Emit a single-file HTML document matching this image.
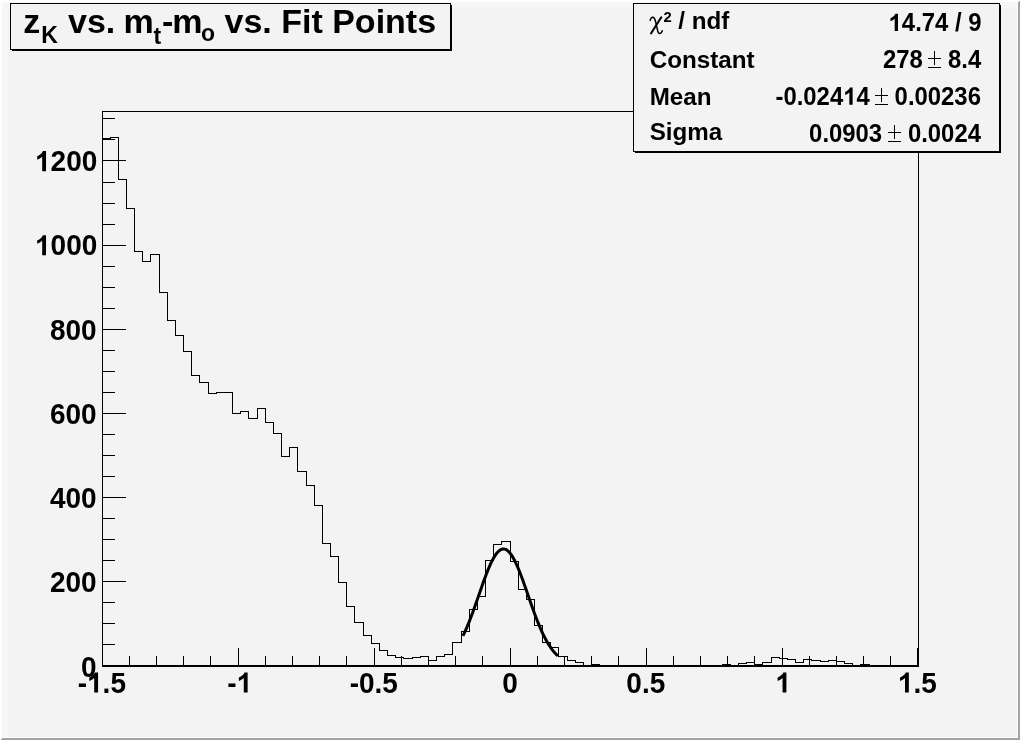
<!DOCTYPE html>
<html><head><meta charset="utf-8"><title>zK vs. mt-mo vs. Fit Points</title>
<style>
html,body{margin:0;padding:0;background:#f3f3f3;}
body{width:1020px;height:740px;overflow:hidden;position:relative;font-family:"Liberation Sans",sans-serif;}
svg{position:absolute;left:0;top:0;display:block;filter:grayscale(1)}
text{font-kerning:none;font-family:"Liberation Sans",sans-serif;font-weight:bold;fill:#000}
.ax text{font-size:28px}
.st text{font-size:24.2px}
.st .nm text{font-size:23.9px}
.sym{font-family:"Liberation Serif",serif;font-weight:normal}
</style></head><body>
<svg width="1020" height="740" viewBox="0 0 1020 740">
<rect x="0" y="0" width="1020" height="740" fill="#f3f3f3"/>
<!-- canvas bevel -->
<g shape-rendering="crispEdges">
<rect x="0" y="0" width="1020" height="2" fill="#ffffff"/>
<rect x="0" y="0" width="2" height="740" fill="#ffffff"/>
<rect x="1018" y="0" width="2" height="740" fill="#a3a3a3"/>
<rect x="0" y="738" width="1020" height="2" fill="#a3a3a3"/>
<path d="M0 740 L2 738 L0 738 Z M1020 0 L1018 2 L1018 0 Z" fill="#ffffff"/>
<rect x="2" y="2" width="1016" height="6" fill="#f7f7f7"/>
<rect x="2" y="2" width="6" height="736" fill="#f7f7f7"/>
<rect x="2" y="737" width="1016" height="1" fill="#fbfbfb"/>
<rect x="1017" y="2" width="1" height="736" fill="#fbfbfb"/>
</g>
<!-- frame -->
<g shape-rendering="crispEdges" fill="#000">
<rect x="102" y="111" width="817" height="1"/>
<rect x="102" y="111" width="1" height="556"/>
<rect x="918" y="111" width="1" height="556"/>
<rect x="102" y="665" width="817" height="2"/>
<rect x="102" y="648" width="1" height="17"/><rect x="129" y="656" width="1" height="9"/><rect x="156" y="656" width="1" height="9"/><rect x="183" y="656" width="1" height="9"/><rect x="210" y="656" width="1" height="9"/><rect x="238" y="648" width="1" height="17"/><rect x="265" y="656" width="1" height="9"/><rect x="292" y="656" width="1" height="9"/><rect x="319" y="656" width="1" height="9"/><rect x="346" y="656" width="1" height="9"/><rect x="374" y="648" width="1" height="17"/><rect x="401" y="656" width="1" height="9"/><rect x="428" y="656" width="1" height="9"/><rect x="455" y="656" width="1" height="9"/><rect x="482" y="656" width="1" height="9"/><rect x="510" y="648" width="1" height="17"/><rect x="537" y="656" width="1" height="9"/><rect x="564" y="656" width="1" height="9"/><rect x="591" y="656" width="1" height="9"/><rect x="618" y="656" width="1" height="9"/><rect x="646" y="648" width="1" height="17"/><rect x="673" y="656" width="1" height="9"/><rect x="700" y="656" width="1" height="9"/><rect x="727" y="656" width="1" height="9"/><rect x="754" y="656" width="1" height="9"/><rect x="782" y="648" width="1" height="17"/><rect x="809" y="656" width="1" height="9"/><rect x="836" y="656" width="1" height="9"/><rect x="863" y="656" width="1" height="9"/><rect x="890" y="656" width="1" height="9"/><rect x="917" y="648" width="1" height="17"/>
<rect x="103" y="665" width="23" height="1"/><rect x="103" y="644" width="12" height="1"/><rect x="103" y="623" width="12" height="1"/><rect x="103" y="602" width="12" height="1"/><rect x="103" y="581" width="23" height="1"/><rect x="103" y="560" width="12" height="1"/><rect x="103" y="539" width="12" height="1"/><rect x="103" y="518" width="12" height="1"/><rect x="103" y="497" width="23" height="1"/><rect x="103" y="476" width="12" height="1"/><rect x="103" y="455" width="12" height="1"/><rect x="103" y="434" width="12" height="1"/><rect x="103" y="413" width="23" height="1"/><rect x="103" y="392" width="12" height="1"/><rect x="103" y="371" width="12" height="1"/><rect x="103" y="350" width="12" height="1"/><rect x="103" y="329" width="23" height="1"/><rect x="103" y="308" width="12" height="1"/><rect x="103" y="287" width="12" height="1"/><rect x="103" y="266" width="12" height="1"/><rect x="103" y="245" width="23" height="1"/><rect x="103" y="224" width="12" height="1"/><rect x="103" y="203" width="12" height="1"/><rect x="103" y="182" width="12" height="1"/><rect x="103" y="160" width="23" height="1"/><rect x="103" y="139" width="12" height="1"/><rect x="103" y="118" width="12" height="1"/>
</g>
<!-- histogram -->
<path d="M102.5 665.5 L102.5 138.5 L110.5 138.5 L110.5 137.5 L118.5 137.5 L118.5 179.5 L126.5 179.5 L126.5 208.5 L134.5 208.5 L134.5 251.5 L142.5 251.5 L142.5 261.5 L150.5 261.5 L150.5 254.5 L159.5 254.5 L159.5 292.5 L167.5 292.5 L167.5 320.5 L175.5 320.5 L175.5 335.5 L183.5 335.5 L183.5 351.5 L191.5 351.5 L191.5 375.5 L199.5 375.5 L199.5 382.5 L208.5 382.5 L208.5 393.5 L216.5 393.5 L216.5 392.5 L224.5 392.5 L224.5 392.5 L232.5 392.5 L232.5 413.5 L240.5 413.5 L240.5 411.5 L248.5 411.5 L248.5 418.5 L257.5 418.5 L257.5 408.5 L265.5 408.5 L265.5 422.5 L273.5 422.5 L273.5 433.5 L281.5 433.5 L281.5 456.5 L289.5 456.5 L289.5 447.5 L297.5 447.5 L297.5 471.5 L306.5 471.5 L306.5 485.5 L314.5 485.5 L314.5 505.5 L322.5 505.5 L322.5 543.5 L330.5 543.5 L330.5 556.5 L338.5 556.5 L338.5 582.5 L346.5 582.5 L346.5 606.5 L354.5 606.5 L354.5 622.5 L363.5 622.5 L363.5 635.5 L371.5 635.5 L371.5 643.5 L379.5 643.5 L379.5 650.5 L387.5 650.5 L387.5 655.5 L395.5 655.5 L395.5 657.5 L403.5 657.5 L403.5 658.5 L412.5 658.5 L412.5 657.5 L420.5 657.5 L420.5 656.5 L428.5 656.5 L428.5 660.5 L436.5 660.5 L436.5 656.5 L444.5 656.5 L444.5 654.5 L452.5 654.5 L452.5 642.5 L461.5 642.5 L461.5 631.5 L469.5 631.5 L469.5 609.5 L477.5 609.5 L477.5 596.5 L485.5 596.5 L485.5 560.5 L493.5 560.5 L493.5 544.5 L501.5 544.5 L501.5 541.5 L510.5 541.5 L510.5 561.5 L518.5 561.5 L518.5 589.5 L526.5 589.5 L526.5 599.5 L534.5 599.5 L534.5 625.5 L542.5 625.5 L542.5 642.5 L550.5 642.5 L550.5 647.5 L558.5 647.5 L558.5 656.5 L567.5 656.5 L567.5 660.5 L575.5 660.5 L575.5 662.5 L583.5 662.5 L583.5 665.5 L591.5 665.5 L591.5 664.5 L599.5 664.5 L599.5 665.5 L607.5 665.5 L607.5 665.5 L616.5 665.5 L616.5 665.5 L624.5 665.5 L624.5 665.5 L632.5 665.5 L632.5 665.5 L640.5 665.5 L640.5 665.5 L648.5 665.5 L648.5 665.5 L656.5 665.5 L656.5 665.5 L665.5 665.5 L665.5 665.5 L673.5 665.5 L673.5 665.5 L681.5 665.5 L681.5 665.5 L689.5 665.5 L689.5 665.5 L697.5 665.5 L697.5 665.5 L705.5 665.5 L705.5 665.5 L714.5 665.5 L714.5 665.5 L722.5 665.5 L722.5 664.5 L730.5 664.5 L730.5 665.5 L738.5 665.5 L738.5 663.5 L746.5 663.5 L746.5 662.5 L754.5 662.5 L754.5 664.5 L762.5 664.5 L762.5 662.5 L771.5 662.5 L771.5 657.5 L779.5 657.5 L779.5 658.5 L787.5 658.5 L787.5 659.5 L795.5 659.5 L795.5 662.5 L803.5 662.5 L803.5 659.5 L811.5 659.5 L811.5 660.5 L820.5 660.5 L820.5 661.5 L828.5 661.5 L828.5 660.5 L836.5 660.5 L836.5 661.5 L844.5 661.5 L844.5 663.5 L852.5 663.5 L852.5 665.5 L860.5 665.5 L860.5 664.5 L869.5 664.5 L869.5 665.5 L877.5 665.5 L877.5 665.5 L885.5 665.5 L885.5 665.5 L893.5 665.5 L893.5 665.5 L901.5 665.5 L901.5 665.5 L909.5 665.5 L909.5 665.5 L918.5 665.5 L918.5 665.5" fill="none" stroke="#000" stroke-width="1" shape-rendering="crispEdges"/>
<!-- fit -->
<path d="M462.94 635.89 L463.89 633.93 L464.84 631.91 L465.79 629.80 L466.74 627.62 L467.69 625.38 L468.64 623.06 L469.59 620.68 L470.54 618.24 L471.49 615.74 L472.44 613.19 L473.39 610.60 L474.34 607.96 L475.28 605.29 L476.23 602.59 L477.18 599.87 L478.13 597.13 L479.08 594.39 L480.03 591.65 L480.98 588.92 L481.93 586.21 L482.88 583.53 L483.83 580.88 L484.78 578.28 L485.73 575.74 L486.68 573.26 L487.63 570.85 L488.57 568.53 L489.52 566.30 L490.47 564.17 L491.42 562.15 L492.37 560.25 L493.32 558.47 L494.27 556.83 L495.22 555.33 L496.17 553.97 L497.12 552.77 L498.07 551.73 L499.02 550.84 L499.97 550.13 L500.92 549.58 L501.86 549.21 L502.81 549.00 L503.76 548.98 L504.71 549.13 L505.66 549.45 L506.61 549.94 L507.56 550.61 L508.51 551.44 L509.46 552.43 L510.41 553.59 L511.36 554.90 L512.31 556.36 L513.26 557.96 L514.21 559.69 L515.15 561.56 L516.10 563.54 L517.05 565.64 L518.00 567.84 L518.95 570.13 L519.90 572.51 L520.85 574.97 L521.80 577.50 L522.75 580.08 L523.70 582.71 L524.65 585.39 L525.60 588.09 L526.55 590.81 L527.50 593.55 L528.44 596.29 L529.39 599.03 L530.34 601.76 L531.29 604.46 L532.24 607.15 L533.19 609.79 L534.14 612.40 L535.09 614.97 L536.04 617.48 L536.99 619.94 L537.94 622.34 L538.89 624.67 L539.84 626.94 L540.78 629.14 L541.73 631.27 L542.68 633.32 L543.63 635.30 L544.58 637.20 L545.53 639.02 L546.48 640.77 L547.43 642.43 L548.38 644.02 L549.33 645.53 L550.28 646.97 L551.23 648.33 L552.18 649.62 L553.13 650.84 L554.07 651.99 L555.02 653.06 L555.97 654.08 L556.92 655.03 L557.87 655.92" fill="none" stroke="#000" stroke-width="3" stroke-linejoin="round"/>
<!-- axis labels -->
<g class="ax"><text x="77.72" y="692.50" transform="matrix(1 0 0 1.0405 0 -28.015)" style="font-size:28px">-</text><path transform="translate(87.04 692.50) scale(0.01367 -0.01367)" d="M806 0L525 0L525 1059Q371 915 162 846L162 1101Q272 1137 401 1237.5Q530 1338 578 1472L806 1472Z"/><text x="102.62" y="692.50" transform="matrix(1 0 0 1.0405 0 -28.015)" style="font-size:28px">.5</text><text x="227.28" y="692.50" transform="matrix(1 0 0 1.0405 0 -28.015)" style="font-size:28px">-</text><path transform="translate(236.61 692.50) scale(0.01367 -0.01367)" d="M806 0L525 0L525 1059Q371 915 162 846L162 1101Q272 1137 401 1237.5Q530 1338 578 1472L806 1472Z"/><text x="349.72" y="692.50" transform="matrix(1 0 0 1.0405 0 -28.015)" style="font-size:28px">-0.5</text><text x="502.23" y="692.50" transform="matrix(1 0 0 1.0405 0 -28.015)" style="font-size:28px">0</text><text x="626.37" y="692.50" transform="matrix(1 0 0 1.0405 0 -28.015)" style="font-size:28px">0.5</text><path transform="translate(775.38 692.50) scale(0.01367 -0.01367)" d="M806 0L525 0L525 1059Q371 915 162 846L162 1101Q272 1137 401 1237.5Q530 1338 578 1472L806 1472Z"/><path transform="translate(897.82 692.50) scale(0.01367 -0.01367)" d="M806 0L525 0L525 1059Q371 915 162 846L162 1101Q272 1137 401 1237.5Q530 1338 578 1472L806 1472Z"/><text x="913.39" y="692.50" transform="matrix(1 0 0 1.0405 0 -28.015)" style="font-size:28px">.5</text><text x="81.13" y="676.55" transform="matrix(1 0 0 1.0405 0 -27.369)" style="font-size:28px">0</text><text x="49.98" y="591.99" transform="matrix(1 0 0 1.0405 0 -23.948)" style="font-size:28px">200</text><text x="49.98" y="507.83" transform="matrix(1 0 0 1.0405 0 -20.544)" style="font-size:28px">400</text><text x="49.98" y="423.67" transform="matrix(1 0 0 1.0405 0 -17.139)" style="font-size:28px">600</text><text x="49.98" y="339.51" transform="matrix(1 0 0 1.0405 0 -13.735)" style="font-size:28px">800</text><path transform="translate(35.01 255.35) scale(0.01367 -0.01367)" d="M806 0L525 0L525 1059Q371 915 162 846L162 1101Q272 1137 401 1237.5Q530 1338 578 1472L806 1472Z"/><text x="50.58" y="255.35" transform="matrix(1 0 0 1.0405 0 -10.330)" style="font-size:28px">000</text><path transform="translate(35.01 171.19) scale(0.01367 -0.01367)" d="M806 0L525 0L525 1059Q371 915 162 846L162 1101Q272 1137 401 1237.5Q530 1338 578 1472L806 1472Z"/><text x="50.58" y="171.19" transform="matrix(1 0 0 1.0405 0 -6.925)" style="font-size:28px">200</text></g>
<!-- title -->
<g shape-rendering="crispEdges">
<rect x="10" y="3" width="441" height="47" fill="#000"/>
<rect x="11" y="4" width="439" height="45" fill="#f3f3f3"/>
<rect x="451" y="5" width="1" height="46" fill="#000"/>
<rect x="12" y="50" width="440" height="1" fill="#000"/>
</g>
<g id="title">
<text x="23.2" y="32.7" style="font-size:34px">z</text>
<text x="41.2" y="42.6" style="font-size:23px">K</text>
<text x="68" y="32.7" style="font-size:34px">vs.</text><text x="123.6" y="32.7" style="font-size:34px">m</text>
<text x="153.5" y="43.6" style="font-size:23px">t</text>
<text x="162" y="32.7" style="font-size:34px">-</text><text x="172.2" y="32.7" style="font-size:34px">m</text>
<text x="201" y="41" style="font-size:23px">o</text>
<text x="224.5" y="32.7" style="font-size:34px">vs. Fit Points</text>
</g>
<!-- stats -->
<g shape-rendering="crispEdges">
<rect x="633" y="3" width="367" height="149" fill="#000"/>
<rect x="634" y="4" width="365" height="147" fill="#f3f3f3"/>
<rect x="1000" y="5" width="1" height="148" fill="#000"/>
<rect x="635" y="152" width="366" height="1" fill="#000"/>
</g>
<g class="st">
<path d="M650.2 20.4 C650.5 18.2 651.8 17 653.1 17.3 C654.5 17.7 655.2 19.5 655.7 22 L657.6 30.3 C658 32.4 658.8 33.6 660 33.4 C661.2 33.1 662 32 662.3 30.8" fill="none" stroke="#000" stroke-width="1.5" stroke-linecap="round"/>
<path d="M661.3 17.3 L651.1 33.3" fill="none" stroke="#000" stroke-width="2.1" stroke-linecap="round"/>
<text x="663.6" y="21.6" style="font-size:14.8px">2</text>
<text x="678.3" y="29">/</text><text x="691.8" y="29">ndf</text>
<text x="649.7" y="67.7">Constant</text>
<text x="649.7" y="104.8">Mean</text>
<text x="649.7" y="139.7">Sigma</text>
<g class="nm">
<path transform="translate(888.58 31.00) scale(0.01167 -0.01167)" d="M806 0L525 0L525 1059Q371 915 162 846L162 1101Q272 1137 401 1237.5Q530 1338 578 1472L806 1472Z"/><text x="901.87" y="31.00" transform="matrix(1 0 0 1.0405 0 -1.254)" style="font-size:23.9px">4.74 / 9</text>
<text x="882.92" y="67.70" transform="matrix(1 0 0 1.0405 0 -2.739)" style="font-size:23.9px">278</text><text x="947.98" y="67.70" transform="matrix(1 0 0 1.0405 0 -2.739)" style="font-size:23.9px">8.4</text>
<text x="775.45" y="104.80" transform="matrix(1 0 0 1.0405 0 -4.240)" style="font-size:23.9px">-0.024</text><path transform="translate(843.22 104.80) scale(0.01167 -0.01167)" d="M806 0L525 0L525 1059Q371 915 162 846L162 1101Q272 1137 401 1237.5Q530 1338 578 1472L806 1472Z"/><text x="856.51" y="104.80" transform="matrix(1 0 0 1.0405 0 -4.240)" style="font-size:23.9px">4</text><text x="894.61" y="104.80" transform="matrix(1 0 0 1.0405 0 -4.240)" style="font-size:23.9px">0.00236</text>
<text x="809.10" y="141.50" transform="matrix(1 0 0 1.0405 0 -5.724)" style="font-size:23.9px">0.0903</text><text x="907.90" y="141.50" transform="matrix(1 0 0 1.0405 0 -5.724)" style="font-size:23.9px">0.0024</text>
</g>
<g shape-rendering="crispEdges"><rect x="928" y="58" width="13" height="1"/><rect x="934" y="51" width="1" height="14"/><rect x="928" y="67" width="13" height="1"/></g><g shape-rendering="crispEdges"><rect x="875" y="95" width="13" height="1"/><rect x="881" y="88" width="1" height="14"/><rect x="875" y="104" width="13" height="1"/></g><g shape-rendering="crispEdges"><rect x="888" y="132" width="13" height="1"/><rect x="894" y="125" width="1" height="14"/><rect x="888" y="141" width="13" height="1"/></g>
</g>
</svg>
</body></html>
